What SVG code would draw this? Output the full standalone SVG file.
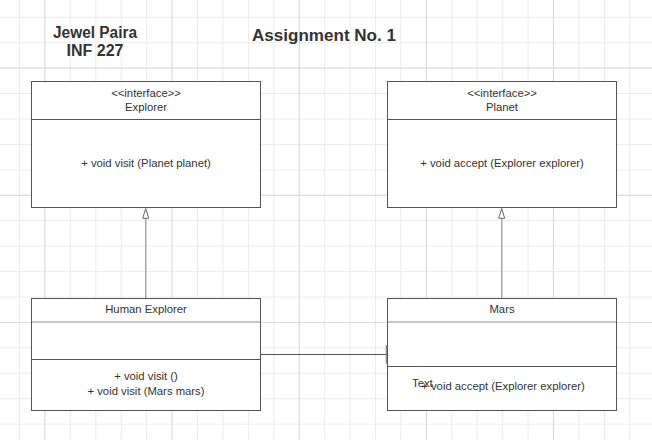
<svg xmlns="http://www.w3.org/2000/svg" width="652" height="440" viewBox="0 0 652 440">
<style>
.g{stroke:#ececec;stroke-width:1}
.gm{stroke:#dcdcdc;stroke-width:1.2}
.box{fill:#fff;stroke:#555;stroke-width:1}
.div{stroke:#555;stroke-width:1}
.divl{stroke:#c8c8c8;stroke-width:2}
.arr{fill:#fff;stroke:#666;stroke-width:1}
.t{font-family:"Liberation Sans",Arial,sans-serif;font-size:11.3px;fill:#333;text-anchor:middle}
.h{font-family:"Liberation Sans",Arial,sans-serif;font-size:16px;font-weight:bold;fill:#333;text-anchor:middle}
</style>
<rect width="652" height="440" fill="#fff"/>
<g id="grid">
<path class="g" d="M19.5,0V440M70.4,0V440M95.8,0V440M121.2,0V440M146.7,0V440M197.5,0V440M222.9,0V440M248.4,0V440M273.8,0V440M324.7,0V440M350.1,0V440M375.5,0V440M400.9,0V440M451.8,0V440M477.2,0V440M502.7,0V440M528.1,0V440M578.9,0V440M604.4,0V440M629.8,0V440"/>
<path class="g" d="M0,17.3H652M0,42.7H652M0,93.6H652M0,119H652M0,144.5H652M0,169.9H652M0,220.7H652M0,246.2H652M0,271.6H652M0,297H652M0,347.9H652M0,373.3H652M0,398.8H652M0,424.2H652"/>
<path class="gm" d="M44.9,0V440M172.1,0V440M299.2,0V440M426.4,0V440M553.5,0V440M0,68.2H652M0,195.3H652M0,322.5H652"/>
</g>
<g id="titles">
<text class="h" x="95" y="38" textLength="84" lengthAdjust="spacingAndGlyphs">Jewel Paira</text>
<text class="h" x="95" y="56">INF 227</text>
<text class="h" x="324" y="41" style="font-size:17px" textLength="144" lengthAdjust="spacingAndGlyphs">Assignment No. 1</text>
</g>
<g id="connectors">
<line x1="145.7" y1="298" x2="145.7" y2="218" stroke="#999" stroke-width="1.2"/>
<polygon class="arr" points="145.7,208.5 148.7,218.3 142.7,218.3"/>
<line x1="501.7" y1="298" x2="501.7" y2="218" stroke="#999" stroke-width="1.2"/>
<polygon class="arr" points="501.7,208.5 504.7,218.3 498.7,218.3"/>
<line x1="261" y1="354.5" x2="387" y2="354.5" stroke="#555" stroke-width="1"/>
<line x1="386.5" y1="345" x2="386.5" y2="363.5" stroke="#888" stroke-width="1.5"/>
</g>
<g id="explorer">
<rect class="box" x="31.5" y="81.5" width="229" height="126"/>
<line class="div" x1="31.5" y1="119.5" x2="260.5" y2="119.5"/>
<text class="t" x="146" y="96.5">&lt;&lt;interface&gt;&gt;</text>
<text class="t" x="146" y="110.5">Explorer</text>
<text class="t" x="146" y="166.5">+ void visit (Planet planet)</text>
</g>
<g id="planet">
<rect class="box" x="387.5" y="81.5" width="229" height="126"/>
<line class="div" x1="387.5" y1="119.5" x2="616.5" y2="119.5"/>
<text class="t" x="502" y="96.5">&lt;&lt;interface&gt;&gt;</text>
<text class="t" x="502" y="110.5">Planet</text>
<text class="t" x="502" y="166.5">+ void accept (Explorer explorer)</text>
</g>
<g id="human-explorer">
<rect class="box" x="31.5" y="298.5" width="229" height="112"/>
<line class="divl" x1="32" y1="322" x2="260" y2="322"/>
<line class="div" x1="31.5" y1="359.5" x2="260.5" y2="359.5"/>
<text class="t" x="146" y="313">Human Explorer</text>
<text class="t" x="146" y="380">+ void visit ()</text>
<text class="t" x="146" y="395">+ void visit (Mars mars)</text>
</g>
<g id="mars">
<rect class="box" x="387.5" y="298.5" width="229" height="112"/>
<line class="divl" x1="388" y1="322" x2="616" y2="322"/>
<line class="div" x1="387.5" y1="366.5" x2="616.5" y2="366.5"/>
<text class="t" x="502" y="313">Mars</text>
<text class="t" x="503" y="390">+ void accept (Explorer explorer)</text>
<text class="t" x="412" y="387" style="text-anchor:start">Text</text>
</g>
</svg>
